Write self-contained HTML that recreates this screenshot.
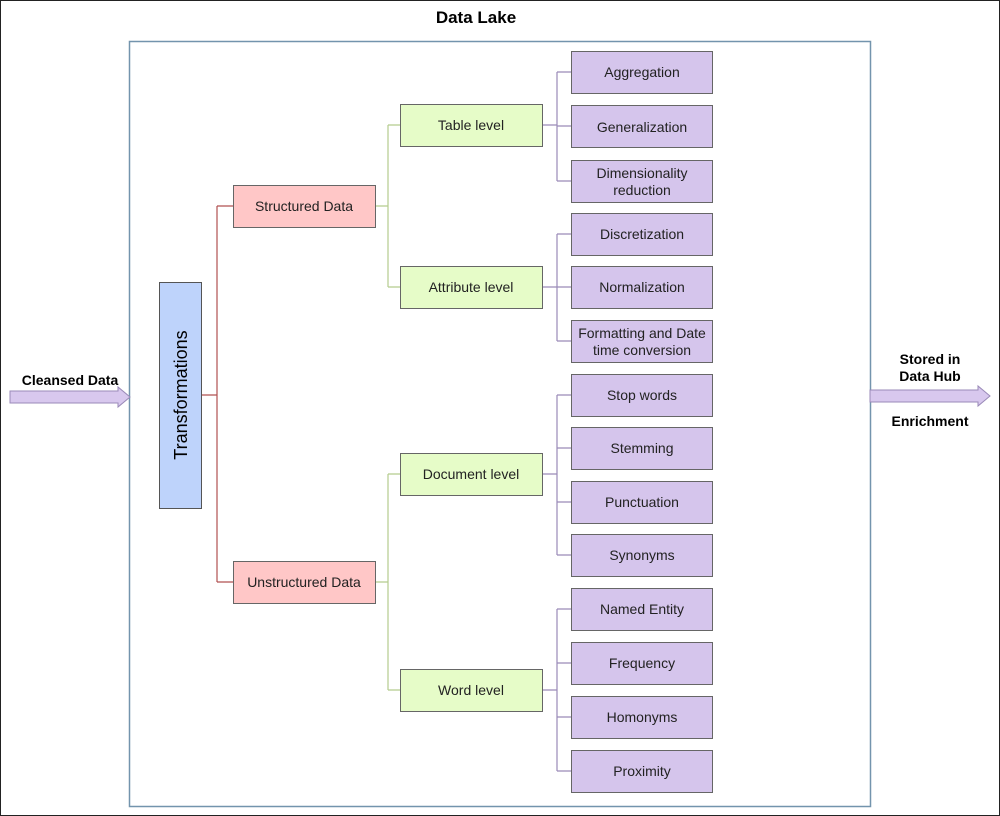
<!DOCTYPE html>
<html><head><style>body{margin:0;background:#fff}svg{display:block}</style></head><body>
<svg width="1000" height="816" xmlns="http://www.w3.org/2000/svg" font-family="Liberation Sans, sans-serif">
<rect x="0.5" y="0.5" width="999" height="815" fill="#fff" stroke="#222"/>
<text x="476" y="23" font-size="17" font-weight="bold" text-anchor="middle">Data Lake</text>
<rect x="129.5" y="41.5" width="741" height="765" fill="none" stroke="#7394ad" stroke-width="1.5"/>
<!-- connectors -->
<g fill="none" stroke-width="1.2">
<path d="M201 395H217M217 206V582M217 206H233M217 582H233" stroke="#b05050"/>
<path d="M376 206H388M388 125V287M388 125H400M388 287H400M376 582H388M388 474V690M388 474H400M388 690H400" stroke="#b5cc8e"/>
<path d="M543 125H557M557 72V181M557 72H571M557 126H571M557 181H571" stroke="#9a8ab8"/>
<path d="M543 287H557M557 234V341M557 234H571M557 287H571M557 341H571" stroke="#9a8ab8"/>
<path d="M543 474H557M557 395V555M557 395H571M557 448H571M557 502H571M557 555H571" stroke="#9a8ab8"/>
<path d="M543 690H557M557 609V771M557 609H571M557 663H571M557 717H571M557 771H571" stroke="#9a8ab8"/>
</g>
<rect x="159.5" y="282.5" width="42" height="226" fill="#bed3fb" stroke="#555"/>
<text transform="translate(187,395) rotate(-90)" font-size="18" text-anchor="middle">Transformations</text>
<g stroke="#666" font-size="14" text-anchor="middle">
<rect x="233.5" y="185.5" width="142" height="42" fill="#ffc7c7"/>
<rect x="233.5" y="561.5" width="142" height="42" fill="#ffc7c7"/>
<rect x="400.5" y="104.5" width="142" height="42" fill="#e6fcc8"/>
<rect x="400.5" y="266.5" width="142" height="42" fill="#e6fcc8"/>
<rect x="400.5" y="453.5" width="142" height="42" fill="#e6fcc8"/>
<rect x="400.5" y="669.5" width="142" height="42" fill="#e6fcc8"/>
<g fill="#d5c5ec">
<rect x="571.5" y="51.5" width="141" height="42"/>
<rect x="571.5" y="105.5" width="141" height="42"/>
<rect x="571.5" y="160.5" width="141" height="42"/>
<rect x="571.5" y="213.5" width="141" height="42"/>
<rect x="571.5" y="266.5" width="141" height="42"/>
<rect x="571.5" y="320.5" width="141" height="42"/>
<rect x="571.5" y="374.5" width="141" height="42"/>
<rect x="571.5" y="427.5" width="141" height="42"/>
<rect x="571.5" y="481.5" width="141" height="42"/>
<rect x="571.5" y="534.5" width="141" height="42"/>
<rect x="571.5" y="588.5" width="141" height="42"/>
<rect x="571.5" y="642.5" width="141" height="42"/>
<rect x="571.5" y="696.5" width="141" height="42"/>
<rect x="571.5" y="750.5" width="141" height="42"/>
</g>
</g>
<g font-size="14" text-anchor="middle" fill="#222">
<text x="304" y="211">Structured Data</text>
<text x="304" y="587">Unstructured Data</text>
<text x="471" y="130">Table level</text>
<text x="471" y="292">Attribute level</text>
<text x="471" y="479">Document level</text>
<text x="471" y="695">Word level</text>
<text x="642" y="77">Aggregation</text>
<text x="642" y="132">Generalization</text>
<text x="642" y="178">Dimensionality</text>
<text x="642" y="195">reduction</text>
<text x="642" y="239">Discretization</text>
<text x="642" y="292">Normalization</text>
<text x="642" y="338">Formatting and Date</text>
<text x="642" y="355">time conversion</text>
<text x="642" y="400">Stop words</text>
<text x="642" y="453">Stemming</text>
<text x="642" y="507">Punctuation</text>
<text x="642" y="560">Synonyms</text>
<text x="642" y="614">Named Entity</text>
<text x="642" y="668">Frequency</text>
<text x="642" y="722">Homonyms</text>
<text x="642" y="776">Proximity</text>
</g>
<polygon points="10,391 118,391 118,387 130,397 118,407 118,403 10,403" fill="#d8c8ee" stroke="#9a8ab8"/>
<polygon points="870,390 978,390 978,386 990,396 978,406 978,402 870,402" fill="#d8c8ee" stroke="#9a8ab8"/>
<g font-size="14" font-weight="bold" text-anchor="middle">
<text x="70" y="385">Cleansed Data</text>
<text x="930" y="364">Stored in</text>
<text x="930" y="381">Data Hub</text>
<text x="930" y="426">Enrichment</text>
</g>
</svg>
</body></html>
